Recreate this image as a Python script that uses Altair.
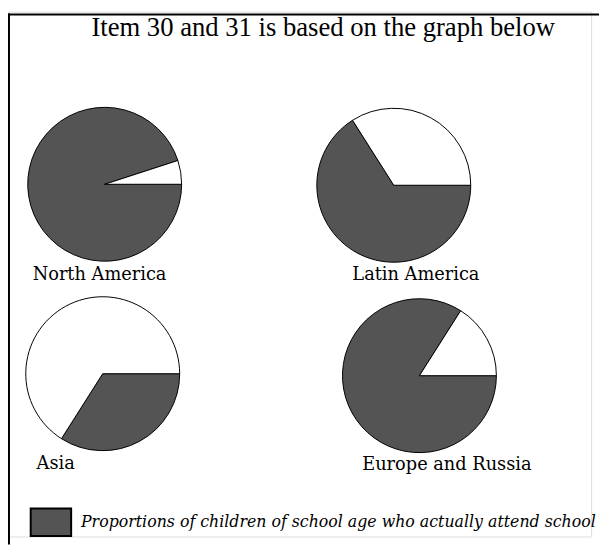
import math
import altair as alt
import pandas as pd

# ---- data ----
regions = ["North America", "Latin America", "Asia", "Europe and Russia"]
attend_pct = [95, 66, 34, 84]          # % of school-age children attending (dark wedge)
segments = ["Proportions of children of school age who actually attend school",
            "Do not attend school"]
title_text = "Item 30 and 31 is based on the graph below"

rows = []
for i, (r, p) in enumerate(zip(regions, attend_pct)):
    rows.append(dict(region=r, slot=i, segment=segments[0], order=0, value=p))
    rows.append(dict(region=r, slot=i, segment=segments[1], order=1, value=100 - p))
df = pd.DataFrame(rows)
label_df = pd.DataFrame({"region": regions, "slot": list(range(len(regions)))})

# ---- layout (pixels inside the plot area) ----
pie_cx = [98, 391, 96, 417]
pie_cy = [175, 176, 367, 369]
lab_x = [25, 349, 29, 359]
lab_y = [272, 272, 464, 465]
slots = list(range(len(regions)))

DARK = "#545454"

pies = alt.Chart(df).transform_stack(
    stack="value", groupby=["region"], as_=["t0", "t1"],
    sort=[alt.SortField("order")]
).mark_arc(radius=78, stroke="black", strokeWidth=1).encode(
    x=alt.X("slot:Q", axis=None,
            scale=alt.Scale(domain=slots, range=pie_cx, nice=False, zero=False)),
    y=alt.Y("slot:Q", axis=None,
            scale=alt.Scale(domain=slots, range=pie_cy, nice=False, zero=False)),
    theta=alt.Theta("t0:Q", scale=alt.Scale(domain=[0, 100],
                                            range=[math.pi / 2, math.pi / 2 + 2 * math.pi])),
    theta2=alt.Theta2("t1:Q"),
    color=alt.Color(
        "segment:N",
        scale=alt.Scale(domain=segments, range=[DARK, "#ffffff"]),
        legend=alt.Legend(
            values=[segments[0]], title=None, orient="none",
            legendX=22, legendY=496, padding=0,
            symbolType="M-1,-0.68H1V0.68H-1Z", symbolSize=1681,
            symbolStrokeColor="black", symbolStrokeWidth=2, symbolOpacity=1,
            labelFont="DejaVu Serif", labelFontStyle="italic", labelFontSize=16,
            labelColor="black", labelLimit=0, labelOffset=9,
        ),
    ),
)

labels = alt.Chart(label_df).mark_text(
    align="left", baseline="alphabetic", font="DejaVu Serif", fontSize=18, color="black"
).encode(
    x=alt.X("slot:Q", axis=None,
            scale=alt.Scale(domain=slots, range=lab_x, nice=False, zero=False)),
    y=alt.Y("slot:Q", axis=None,
            scale=alt.Scale(domain=slots, range=lab_y, nice=False, zero=False)),
    text="region:N",
)

frame_data = alt.Data(values=[{}])
top_line = alt.Chart(frame_data).mark_rule(color="black", strokeWidth=2).encode(
    x=alt.value(0), x2=alt.value(599), y=alt.value(3))
left_line = alt.Chart(frame_data).mark_rule(color="black", strokeWidth=2).encode(
    x=alt.value(1), y=alt.value(2), y2=alt.value(540))

chart = alt.layer(top_line, left_line, pies, labels).resolve_scale(
    x="independent", y="independent"
).properties(
    width=591, height=532,
    autosize=alt.AutoSizeParams(type="none"),
    padding={"left": 0, "top": 0, "right": 8, "bottom": 8},
    title=alt.TitleParams(
        text=title_text, font="Liberation Serif", fontSize=27, fontWeight="normal",
        color="black", anchor="middle", frame="group", offset=-31, dx=24,
    ),
).configure_view(stroke=None).configure(background="white")

chart.save("out.html", embed_options={"renderer": "svg", "actions": False})
